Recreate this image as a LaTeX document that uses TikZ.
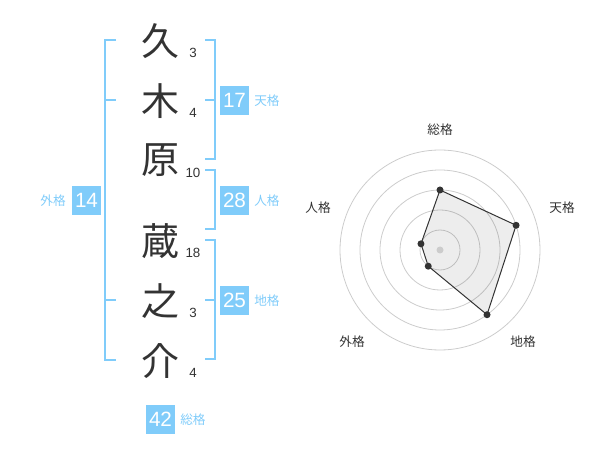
\documentclass[tikz,border=0pt]{standalone}
\usepackage{fontspec}
\usetikzlibrary{calc}
\setmainfont{Liberation Sans}
\newfontfamily\cjk{Noto Sans CJK JP}
\definecolor{bl}{RGB}{128,204,250}
\definecolor{ink}{RGB}{51,51,51}
\definecolor{ring}{RGB}{204,204,204}
\begin{document}
\begin{tikzpicture}[x=0.75pt,y=-0.75pt,
  kanji/.style={font=\cjk\fontsize{28.5}{28.5}\selectfont,text=ink,inner sep=0},
  strokes/.style={font=\fontsize{10}{10}\selectfont,text=ink,inner sep=0},
  numbox/.style={fill=bl,text=white,minimum size=21.75pt,inner sep=0,font=\fontsize{15.5}{15.5}\selectfont},
  kaku/.style={font=\cjk\fontsize{9.5}{10}\selectfont,text=bl,inner sep=0},
  brk/.style={draw=bl,line width=1.5pt},
  rlabel/.style={font=\cjk\fontsize{9.5}{10}\selectfont,text=ink,inner sep=0},
  vdot/.style={circle,fill=ink,inner sep=0,minimum size=5.25pt},
]
\useasboundingbox (0,0) rectangle (600,470);
% characters
\node[kanji] (c1) at (160,41) {久};
\node[kanji] (c2) at (160,101) {木};
\node[kanji] (c3) at (160,160) {原};
\node[kanji] (c4) at (160,241) {蔵};
\node[kanji] (c5) at (160,301) {之};
\node[kanji] (c6) at (160,361) {介};
% stroke counts
\node[strokes] (s1) at (193,53) {3};
\node[strokes] (s2) at (193,113) {4};
\node[strokes] (s3) at (193,172.5) {10};
\node[strokes] (s4) at (193,252.5) {18};
\node[strokes] (s5) at (193,313) {3};
\node[strokes] (s6) at (193,373) {4};
% brackets
\draw[brk] (116,40) -- (105,40) -- (105,360) -- (116,360);
\draw[brk] (105,100) -- (116,100);
\draw[brk] (105,300) -- (116,300);
\draw[brk] (205,40) -- (215,40) -- (215,159) -- (205,159);
\draw[brk] (215,100) -- (205,100);
\draw[brk] (205,170) -- (215,170) -- (215,229) -- (205,229);
\draw[brk] (205,240) -- (215,240) -- (215,359) -- (205,359);
\draw[brk] (215,300) -- (205,300);
% boxes and labels
\node[numbox] (b17) at (234.5,100.5) {17};
\node[kaku,anchor=west] (l17) at (254,101) {天格};
\node[numbox] (b28) at (234.5,200.5) {28};
\node[kaku,anchor=west] (l28) at (254,201) {人格};
\node[numbox] (b25) at (234.5,300.5) {25};
\node[kaku,anchor=west] (l25) at (254,301) {地格};
\node[numbox] (b14) at (86.5,200.5) {14};
\node[kaku,anchor=east] (l14) at (66,201) {外格};
\node[numbox] (b42) at (160.5,419.5) {42};
\node[kaku,anchor=west] (l42) at (180,420) {総格};
% radar chart
\coordinate (ctr) at (440,250);
\foreach \r in {20,40,60,80,100}
  \draw[ring,line width=0.6pt] (ctr) circle[radius=\r];
\coordinate (p1) at ($(ctr)+(0,-60)$);
\coordinate (p2) at ($(ctr)+({80*cos(18)},{-80*sin(18)})$);
\coordinate (p3) at ($(ctr)+({80*cos(54)},{80*sin(54)})$);
\coordinate (p4) at ($(ctr)+({-20*cos(54)},{20*sin(54)})$);
\coordinate (p5) at ($(ctr)+({-20*cos(18)},{-20*sin(18)})$);
\filldraw[fill=black,fill opacity=0.07,draw=ink,line width=0.75pt] (p1) -- (p2) -- (p3) -- (p4) -- (p5) -- cycle;
\node[circle,fill=ring,inner sep=0,minimum size=5.25pt] (cd) at (ctr) {};
\foreach \p in {p1,p2,p3,p4,p5} \node[vdot] at (\p) {};
\node[rlabel] (r1) at (440,130) {総格};
\node[rlabel] (r2) at (562,208) {天格};
\node[rlabel] (r3) at (523,342) {地格};
\node[rlabel] (r4) at (352,342) {外格};
\node[rlabel] (r5) at (318,208) {人格};
\end{tikzpicture}
\end{document}
